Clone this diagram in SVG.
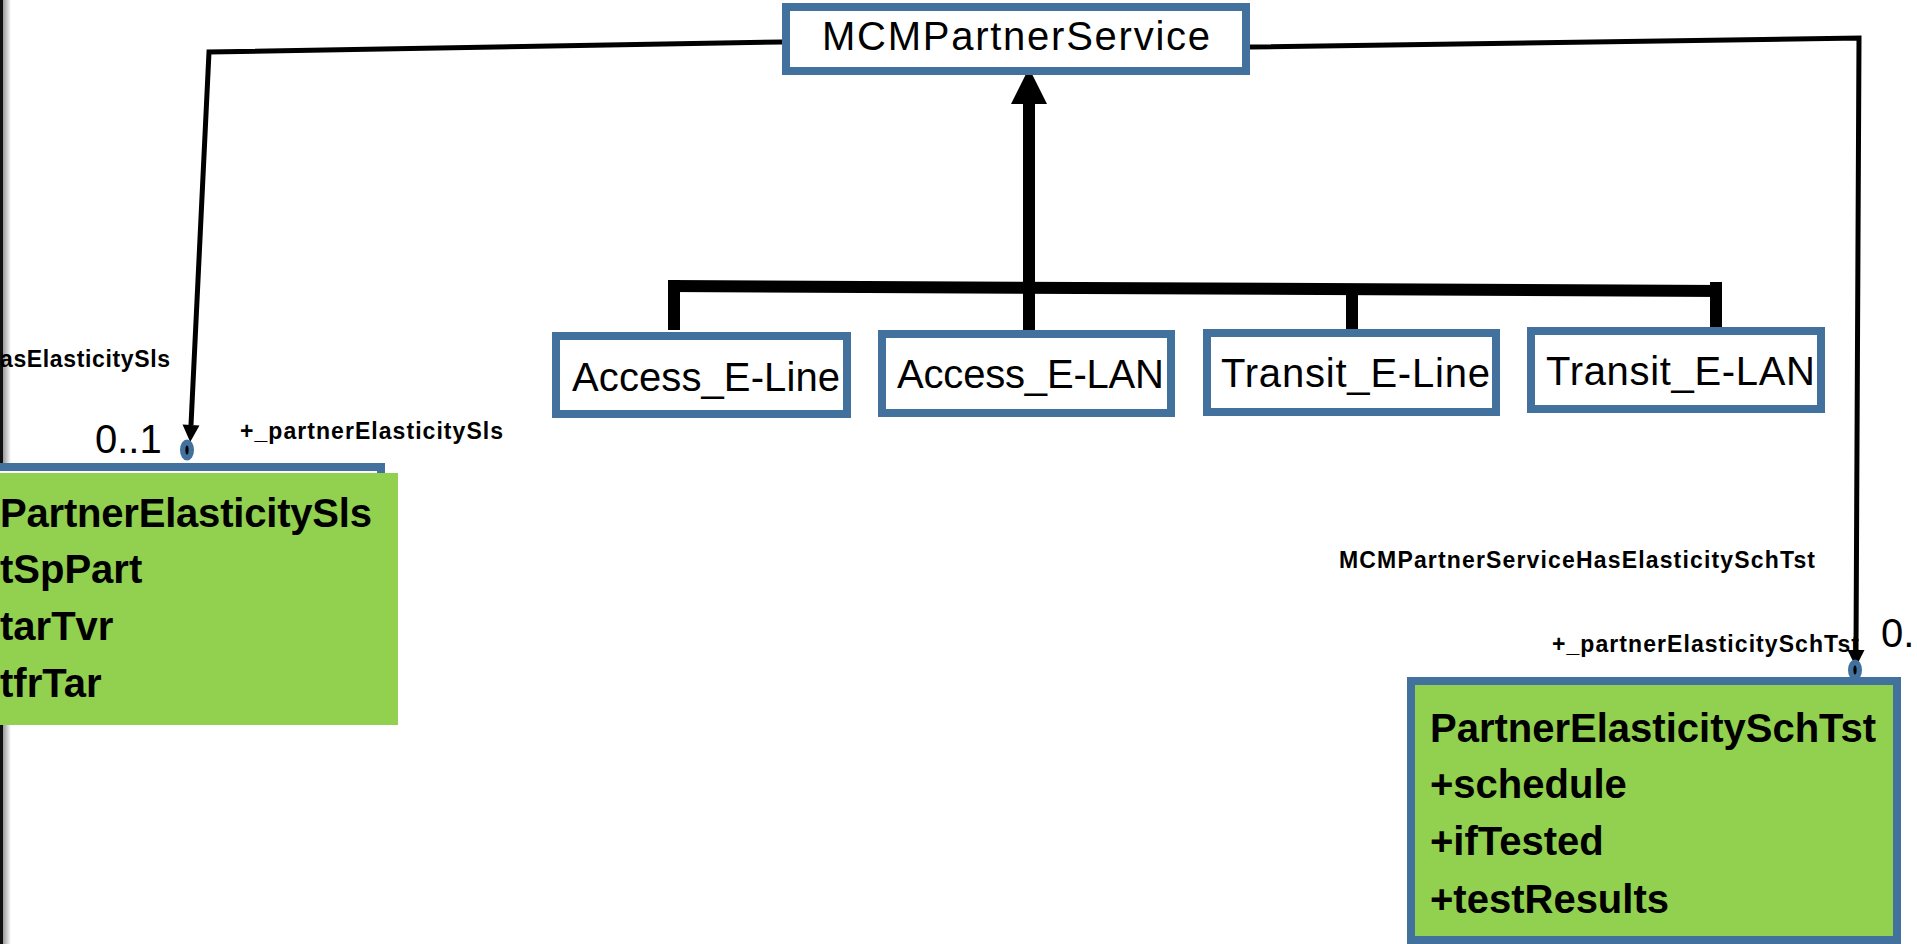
<svg xmlns="http://www.w3.org/2000/svg" width="1917" height="944" viewBox="0 0 1917 944">
<style>
  .box { fill: #ffffff; stroke: #41719C; stroke-width: 8; }
  .cls { fill: #92D050; stroke: #41719C; stroke-width: 8; }
  .lbl { font-family: "Liberation Sans", Arial, sans-serif; font-size: 40px; fill: #000; }
  .bold { font-family: "Liberation Sans", Arial, sans-serif; font-size: 40px; font-weight: bold; fill: #000; }
  .small { font-family: "Liberation Sans", Arial, sans-serif; font-size: 23px; font-weight: bold; fill: #000; }
  .assoc { fill: none; stroke: #000; stroke-width: 5; stroke-linejoin: miter; }
  .gen { fill: none; stroke: #000; stroke-width: 12; stroke-linecap: butt; }
  .end { fill: #41719C; }
  .dot { fill: #000; }
</style>
<defs>
  <marker id="arrow" markerUnits="userSpaceOnUse" markerWidth="18" markerHeight="18" refX="0" refY="8.5" orient="auto" overflow="visible">
    <path d="M0,0 L17,8.5 L0,17 Z" fill="#000"/>
  </marker>
  <linearGradient id="edge" x1="0" y1="0" x2="1" y2="0">
    <stop offset="0" stop-color="#9a9a9a"/>
    <stop offset="1" stop-color="#ffffff"/>
  </linearGradient>
</defs>
<rect x="0" y="0" width="1917" height="944" fill="#ffffff"/>
<rect x="3" y="0" width="8" height="944" fill="url(#edge)"/>
<rect x="0" y="0" width="3" height="944" fill="#111"/>

<g id="connectors">
  <path class="assoc" d="M782,42 L209,52 L191,425" marker-end="url(#arrow)"/>
  <path class="assoc" d="M1250,47 L1859,38 L1856,650" marker-end="url(#arrow)"/>
  <line class="gen" x1="1029" y1="103" x2="1029" y2="338"/>
  <polygon points="1029,68 1047,104 1011,104" fill="#000"/>
  <path class="gen" d="M668,286 L1722,291"/>
  <line class="gen" x1="674" y1="280" x2="674" y2="330"/>
  <line class="gen" x1="1352" y1="290" x2="1352" y2="340"/>
  <line class="gen" x1="1716" y1="282" x2="1716" y2="333"/>
  <ellipse class="end" cx="187" cy="450" rx="7" ry="10.5"/>
  <ellipse class="dot" cx="187" cy="450" rx="1.6" ry="4.5"/>
  <ellipse class="end" cx="1855" cy="670" rx="7" ry="10.5"/>
  <ellipse class="dot" cx="1855" cy="670" rx="1.6" ry="4.5"/>
  <text class="small" x="170" y="367" text-anchor="end" textLength="170">asElasticitySls</text>
  <text class="lbl" x="95" y="453">0..1</text>
  <text class="small" x="240" y="439" textLength="263">+_partnerElasticitySls</text>
  <text class="small" x="1339" y="568" textLength="476">MCMPartnerServiceHasElasticitySchTst</text>
  <text class="small" x="1552" y="652" textLength="307">+_partnerElasticitySchTst</text>
  <text class="lbl" x="1881" y="647">0.</text>
</g>

<g id="MCMPartnerService">
  <rect class="box" x="786" y="7" width="460" height="64"/>
  <text class="lbl" x="822" y="50" font-size="42" textLength="388">MCMPartnerService</text>
</g>

<g id="Access_E-Line">
  <rect class="box" x="556" y="336" width="291" height="78"/>
  <text class="lbl" x="572" y="391" textLength="268">Access_E-Line</text>
</g>

<g id="Access_E-LAN">
  <rect class="box" x="882" y="334" width="289" height="79"/>
  <text class="lbl" x="897" y="388" textLength="267">Access_E-LAN</text>
</g>

<g id="Transit_E-Line">
  <rect class="box" x="1207" y="333" width="289" height="79"/>
  <text class="lbl" x="1221" y="387" textLength="269">Transit_E-Line</text>
</g>

<g id="Transit_E-LAN">
  <rect class="box" x="1531" y="331" width="290" height="78"/>
  <text class="lbl" x="1546" y="385" textLength="269">Transit_E-LAN</text>
</g>

<g id="PartnerElasticitySls">
  <rect x="-10" y="467" width="391" height="240" fill="#ffffff" stroke="#41719C" stroke-width="8"/>
  <rect x="0" y="473" width="398" height="252" fill="#92D050"/>
  <text class="bold" x="0" y="527" textLength="372">PartnerElasticitySls</text>
  <text class="bold" x="0" y="583">tSpPart</text>
  <text class="bold" x="0" y="640">tarTvr</text>
  <text class="bold" x="0" y="697">tfrTar</text>
</g>

<g id="PartnerElasticitySchTst">
  <rect class="cls" x="1411" y="681" width="486" height="259"/>
  <text class="bold" x="1430" y="742">PartnerElasticitySchTst</text>
  <text class="bold" x="1430" y="798">+schedule</text>
  <text class="bold" x="1430" y="855">+ifTested</text>
  <text class="bold" x="1430" y="913">+testResults</text>
</g>
</svg>
